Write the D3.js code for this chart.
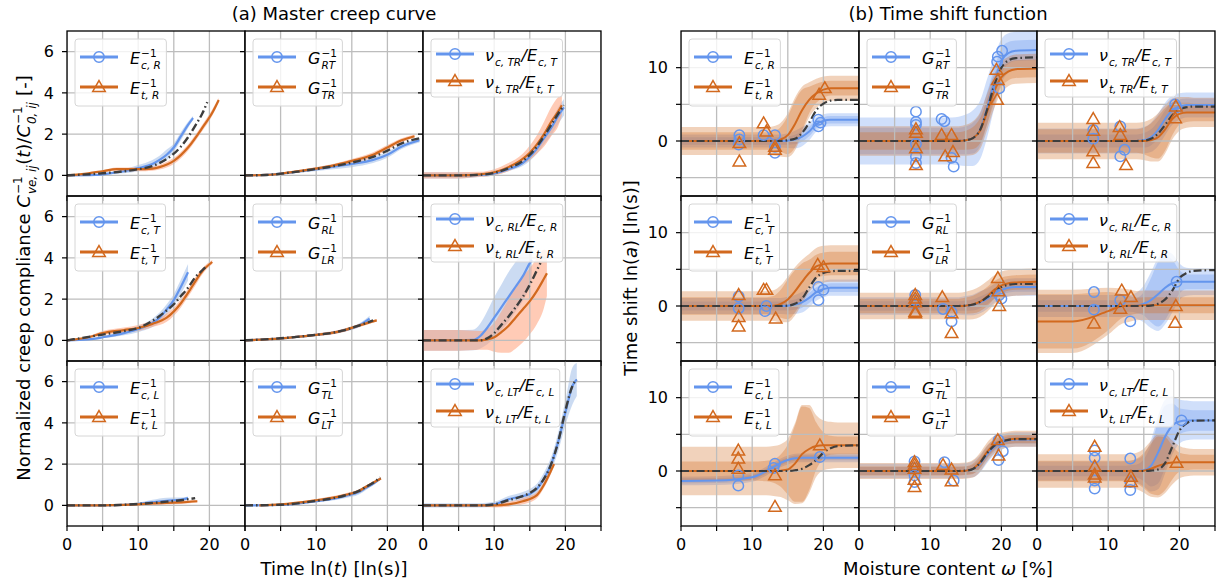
<!DOCTYPE html>
<html><head><meta charset="utf-8">
<script src="https://cdn.jsdelivr.net/npm/d3@7"></script>
<style>body{margin:0;background:#fff}svg{font-family:"DejaVu Sans",sans-serif}text{white-space:pre}</style>
</head><body><svg id="c" width="1219" height="587"></svg>
<script>
// ---------------- DATA ----------------
// (a) master creep curves: time ln(t) and normalized compliance, 9 subplots row-major
const creepBlueT = [
 [0,4,6,8,10,12,13,14,15,16,17,17.7],
 [0,3,6,9,12,15,18,20,22,24.5],
 [0,5,8,10,12,14,15,16,17,18,19,19.8],
 [0,3,5,8,10,12,13,14,15,16,17],
 [0,5,10,12,14,16,17.5],
 [0,5,7,8,9,10,11,12,13,14,15,15.3],
 [0,5,8,10,12,14,16,17],
 [0,5,10,12,14,16,17,18,19],
 [0,8,10,12,14,15,16,17,18,19,20,21,21.6]
];
const creepBlueV = [
 [0,0.02,0.1,0.2,0.35,0.55,0.75,1.0,1.35,1.9,2.45,2.78],
 [0,0.02,0.12,0.25,0.4,0.55,0.75,1.0,1.4,1.7],
 [0,0,0.02,0.1,0.3,0.6,0.9,1.3,1.8,2.3,2.9,3.3],
 [0,0.05,0.15,0.35,0.55,0.85,1.1,1.5,1.95,2.6,3.3],
 [0,0.1,0.27,0.35,0.5,0.72,1.05],
 [0,0,0.02,0.2,0.6,1.1,1.6,2.1,2.6,3.1,3.75,3.9],
 [0,0,0.02,0.08,0.15,0.22,0.28,0.35],
 [0,0.02,0.2,0.3,0.45,0.65,0.85,1.05,1.3],
 [0,0,0.05,0.3,0.45,0.55,0.8,1.3,2.0,3.1,4.5,5.8,6.1]
];
const creepBlueSpread = [
 [0,0.02,0.05,0.1,0.15,0.2,0.2,0.25,0.2,0.2,0.15,0.1],
 [0,0.02,0.05,0.08,0.12,0.15,0.15,0.15,0.12,0.1],
 [0.15,0.15,0.1,0.1,0.1,0.15,0.2,0.25,0.3,0.35,0.4,0.4],
 [0,0.02,0.05,0.1,0.15,0.2,0.25,0.25,0.3,0.35,0.4],
 [0,0.02,0.05,0.06,0.08,0.1,0.15],
 [0.5,0.5,0.5,0.6,0.8,1.0,1.1,1.2,1.2,1.2,1.1,0.9],
 [0,0,0.02,0.05,0.12,0.15,0.1,0.08],
 [0,0.02,0.05,0.08,0.1,0.12,0.1,0.08,0.06],
 [0.1,0.1,0.12,0.15,0.2,0.25,0.25,0.3,0.35,0.45,0.6,0.9,0.8]
];
const creepOrangeT = [
 [0,3,5,7,10,12,13,15,17,19,20.5,21.3],
 [0,3,6,9,12,15,18,20,22,23.8],
 [0,5,8,10,12,14,15,16,17,18,19,19.5],
 [0,3,5,8,10,12,14,16,17,18,19,20.4],
 [0,5,10,12,14,16,18.5],
 [0,5,8,9,10,11,12,13,14,15,16,17,17.4],
 [0,5,8,10,12,14,16,18.3],
 [2,5,10,12,14,16,17,18,19.1],
 [0,8,10,12,14,16,17,18,18.4]
];
const creepOrangeV = [
 [0,0.1,0.2,0.3,0.3,0.33,0.4,0.7,1.35,2.3,3.1,3.65],
 [0,0.02,0.13,0.28,0.45,0.7,1.0,1.35,1.7,1.9],
 [0,0,0.05,0.15,0.4,0.8,1.1,1.5,2.0,2.6,3.1,3.4],
 [0,0.15,0.35,0.5,0.6,0.8,1.1,1.8,2.3,2.85,3.35,3.8],
 [0,0.1,0.27,0.35,0.5,0.72,0.97],
 [0,0,0,0.05,0.15,0.4,0.7,1.1,1.5,1.9,2.4,3.0,3.25],
 [0,0,0.02,0.05,0.1,0.12,0.15,0.2],
 [0,0.05,0.25,0.35,0.5,0.7,0.9,1.1,1.3],
 [0,0,0,0.05,0.2,0.5,1.0,1.7,2.0]
];
const creepOrangeSpread = [
 [0,0.02,0.05,0.08,0.1,0.1,0.12,0.15,0.15,0.15,0.15,0.1],
 [0,0.02,0.05,0.06,0.08,0.1,0.12,0.12,0.1,0.08],
 [0.15,0.15,0.12,0.15,0.2,0.25,0.35,0.45,0.6,0.7,0.7,0.5],
 [0,0.05,0.1,0.12,0.15,0.15,0.2,0.2,0.2,0.2,0.15,0.1],
 [0,0.03,0.06,0.08,0.08,0.08,0.05],
 [0.5,0.5,0.45,0.5,0.7,1.0,1.3,1.5,1.6,1.6,1.6,1.4,1.1],
 [0,0,0.02,0.05,0.08,0.08,0.08,0.06],
 [0,0.03,0.06,0.08,0.08,0.08,0.08,0.06,0.05],
 [0.05,0.05,0.1,0.12,0.15,0.15,0.15,0.15,0.1]
];
const creepMasterT = [
 [0,5,10,12,14,15,16,17,18,19,19.7],
 [0,3,6,9,12,15,18,20,22,24.5],
 [0,5,8,10,12,14,15,16,17,18,19,19.8],
 [0,5,8,10,12,14,15,16,17,18,19,19.6],
 [0,5,10,12,14,16,18],
 [0,8,9,10,11,12,13,14,15,16,16.5],
 [0,5,10,12,14,16,18],
 [0,5,10,12,14,16,17,18,19],
 [0,8,10,12,14,15,16,17,18,19,20,21,21.6]
];
const creepMasterV = [
 [0,0.1,0.3,0.45,0.8,1.05,1.4,1.85,2.4,3.0,3.55],
 [0,0.02,0.12,0.26,0.42,0.62,0.9,1.2,1.55,1.8],
 [0,0,0.03,0.12,0.35,0.7,1.0,1.4,1.9,2.45,3.0,3.4],
 [0,0.28,0.45,0.6,0.95,1.45,1.75,2.15,2.55,3.05,3.4,3.6],
 [0,0.1,0.27,0.35,0.5,0.72,0.97],
 [0,0,0.1,0.35,0.75,1.15,1.6,2.1,2.7,3.4,3.75],
 [0,0,0.07,0.12,0.18,0.25,0.35],
 [0,0.03,0.22,0.32,0.48,0.7,0.9,1.1,1.35],
 [0,0,0.05,0.25,0.45,0.6,0.85,1.3,2.0,3.1,4.6,5.8,6.1]
];

// (b) time shift functions on moisture content grid
const moisture = [0,5,10,12,13,14,15,16,17,18,19,20,21,22,25];
const shiftBlue = [
 [0,0,0,0,0,0,0.05,0.2,0.6,1.3,2.3,2.75,2.9,2.9,2.9],
 [0,0,0,0,0,0,0.1,0.4,1.5,4.5,8.0,10.9,12.0,12.3,12.4],
 [0,0,0,0,0,0,0.1,0.5,1.5,3.0,4.2,4.7,4.9,4.9,4.9],
 [0,0,0,0,0,0,0.05,0.2,0.5,1.1,1.9,2.3,2.5,2.5,2.5],
 [0,0,0,0,0,0,0.05,0.15,0.5,1.0,1.7,2.2,2.5,2.6,2.6],
 [0,0,0,0,0,0.05,0.3,0.8,1.6,2.5,3.1,3.3,3.3,3.3,3.3],
 [-1.35,-1.3,-0.85,0.0,0.55,1.1,1.5,1.75,1.8,1.8,1.8,1.8,1.8,1.8,1.8],
 [0,0,0,0,0,0,0.05,0.25,1.0,2.3,3.3,3.9,4.2,4.3,4.3],
 [0,0,0,0,0,0,0.1,0.7,2.5,4.7,6.2,6.75,6.9,6.9,6.9]
];
const shiftOrange = [
 [0,0,0,0,0.02,0.2,0.8,2.3,4.2,5.6,6.5,7.0,7.2,7.2,7.2],
 [0,0,0,0,0,0,0.1,0.4,1.4,4.0,6.8,8.7,9.5,9.8,9.9],
 [0,0,0,0,0,0,0,0.1,0.5,1.6,3.0,3.7,3.9,3.9,3.9],
 [0,0,0,0,0.05,0.3,0.9,2.0,3.3,4.5,5.4,5.7,5.8,5.8,5.8],
 [0,0,0,0,0,0,0.05,0.2,0.6,1.3,2.2,2.8,3.1,3.2,3.3],
 [-2.1,-2.1,-0.7,0,0.05,0.05,0.1,0.1,0.1,0.1,0.1,0.1,0.1,0.1,0.1],
 [0,0,0,0,0,0.05,0.2,1.0,2.3,3.0,3.4,3.5,3.5,3.5,3.5],
 [0,0,0,0,0,0,0.05,0.3,1.2,2.6,3.6,4.1,4.3,4.4,4.4],
 [0,0,0,0,0,0,0.05,0.3,0.7,1.0,1.15,1.2,1.2,1.2,1.2]
];
const shiftMaster = [
 [0,0,0,0,0,0,0.1,0.3,1.1,2.5,4.2,5.1,5.5,5.6,5.6],
 [0,0,0,0,0,0,0.1,0.4,1.5,4.3,7.6,10.0,11.0,11.3,11.4],
 [0,0,0,0,0,0,0.05,0.3,1.0,2.2,3.5,4.3,4.6,4.7,4.7],
 [0,0,0,0,0,0,0.05,0.3,1.0,2.5,3.9,4.5,4.7,4.8,4.8],
 [0,0,0,0,0,0,0.05,0.2,0.55,1.2,2.0,2.6,2.9,3.0,3.0],
 [0,0,0,0,0,0,0,0.05,0.3,0.9,2.1,3.8,4.5,4.8,4.9],
 [0,0,0,0,0,0,0,0.1,0.3,0.8,1.5,2.5,3.1,3.4,3.5],
 [0,0,0,0,0,0,0.05,0.28,1.1,2.45,3.45,4.0,4.25,4.35,4.35],
 [0,0,0,0,0,0,0,0.05,0.2,1.1,3.3,5.5,6.5,6.85,6.9]
];
const shiftBlueOuter = [
 [0.9,0.9,0.9,0.9,0.9,0.9,1.0,1.2,1.3,1.2,1.0,0.9,0.9,0.9,0.9],
 [3.2,3.2,3.2,3.2,3.2,3.3,3.5,3.8,4.0,4.0,3.5,3.0,2.7,2.6,2.6],
 [1.7,1.7,1.7,1.7,1.7,1.7,1.8,2.0,2.2,2.2,2.0,1.8,1.7,1.7,1.7],
 [1.1,1.1,1.1,1.1,1.1,1.1,1.2,1.3,1.4,1.3,1.2,1.1,1.1,1.1,1.1],
 [1.2,1.2,1.2,1.2,1.2,1.2,1.3,1.4,1.5,1.4,1.3,1.2,1.2,1.2,1.2],
 [1.5,1.5,1.5,1.5,1.5,1.8,2.5,3.8,5.0,5.0,4.0,2.5,1.9,1.8,1.8],
 [0.6,0.6,0.6,0.6,0.6,0.6,0.6,0.6,0.6,0.6,0.6,0.6,0.6,0.6,0.6],
 [1.0,1.0,1.0,1.0,1.0,1.0,1.0,1.1,1.2,1.2,1.1,1.0,1.0,1.0,1.0],
 [1.3,1.3,1.3,1.3,1.4,1.6,2.2,3.5,5.0,5.0,4.0,3.0,2.7,2.6,2.6]
];
const shiftBlueInner = [
 [0.5,0.5,0.5,0.5,0.5,0.5,0.55,0.65,0.7,0.65,0.55,0.5,0.5,0.5,0.5],
 [1.8,1.8,1.8,1.8,1.8,1.8,1.9,2.1,2.2,2.2,1.9,1.7,1.5,1.4,1.4],
 [0.9,0.9,0.9,0.9,0.9,0.9,1.0,1.1,1.2,1.2,1.1,1.0,0.9,0.9,0.9],
 [0.6,0.6,0.6,0.6,0.6,0.6,0.65,0.7,0.75,0.7,0.65,0.6,0.6,0.6,0.6],
 [0.65,0.65,0.65,0.65,0.65,0.65,0.7,0.75,0.8,0.75,0.7,0.65,0.65,0.65,0.65],
 [0.8,0.8,0.8,0.8,0.8,1.0,1.6,3.0,4.4,4.4,3.2,1.6,1.0,1.0,1.0],
 [0.35,0.35,0.35,0.35,0.35,0.35,0.35,0.35,0.35,0.35,0.35,0.35,0.35,0.35,0.35],
 [0.55,0.55,0.55,0.55,0.55,0.55,0.55,0.6,0.65,0.65,0.6,0.55,0.55,0.55,0.55],
 [0.7,0.7,0.7,0.7,0.8,0.9,1.5,2.8,4.2,4.2,3.0,1.8,1.5,1.4,1.4]
];
const shiftOrangeOuter = [
 [1.9,1.9,1.9,1.9,2.0,2.3,3.0,3.6,3.2,2.4,2.0,1.8,1.7,1.7,1.7],
 [2.0,2.0,2.0,2.0,2.0,2.0,2.1,2.3,2.5,2.5,2.3,2.1,2.0,2.0,2.0],
 [2.5,2.5,2.5,2.5,2.5,2.5,2.6,2.9,3.3,3.3,2.8,2.3,2.1,2.0,2.0],
 [2.0,2.0,2.0,2.0,2.1,2.5,3.1,3.3,3.0,2.6,2.5,2.5,2.5,2.5,2.5],
 [1.8,1.8,1.8,1.8,1.8,1.8,1.9,2.0,2.1,2.1,2.0,1.9,1.8,1.8,1.8],
 [4.3,4.3,3.2,2.4,2.2,2.0,2.0,2.0,2.0,2.0,2.0,2.0,2.0,2.0,2.0],
 [3.3,3.3,3.3,3.3,3.4,3.6,4.2,5.5,6.7,6.0,4.2,3.4,3.2,3.1,3.1],
 [1.1,1.1,1.1,1.1,1.1,1.1,1.1,1.2,1.3,1.3,1.2,1.1,1.1,1.1,1.1],
 [2.3,2.3,2.3,2.3,2.3,2.5,3.0,3.8,4.3,4.0,3.0,2.2,1.9,1.8,1.8]
];
const shiftOrangeInner = [
 [1.2,1.2,1.2,1.2,1.3,1.7,2.6,3.2,2.8,1.8,1.3,1.1,1.0,1.0,1.0],
 [1.2,1.2,1.2,1.2,1.2,1.2,1.3,1.5,1.7,1.7,1.5,1.3,1.2,1.2,1.2],
 [1.6,1.6,1.6,1.6,1.6,1.6,1.8,2.3,2.9,2.9,2.2,1.5,1.3,1.2,1.2],
 [1.2,1.2,1.2,1.2,1.3,1.9,2.7,2.9,2.5,1.8,1.6,1.6,1.6,1.6,1.6],
 [1.0,1.0,1.0,1.0,1.0,1.0,1.1,1.2,1.3,1.3,1.2,1.1,1.0,1.0,1.0],
 [3.7,3.7,2.6,1.6,1.3,1.1,1.1,1.1,1.1,1.1,1.1,1.1,1.1,1.1,1.1],
 [1.3,1.3,1.3,1.4,1.6,2.2,3.4,5.2,6.5,5.6,3.2,1.8,1.3,1.2,1.2],
 [0.6,0.6,0.6,0.6,0.6,0.6,0.6,0.7,0.8,0.8,0.7,0.6,0.6,0.6,0.6],
 [1.4,1.4,1.4,1.4,1.4,1.7,2.4,3.4,4.0,3.6,2.3,1.3,1.1,1.0,1.0]
];
// measured shift factors [moisture %, ln(a)]
const shiftCircles = [
 [[8.2,0.8],[8.2,0.2],[8.1,-0.5],[11.6,0.8],[13.2,0.8],[13.2,-0.8],[13.2,-1.6],[19.3,2.9],[19.3,2.0],[19.6,2.5]],
 [[8,4.0],[8,2.6],[8,2.2],[8,-0.4],[8,-2.1],[8,-3.0],[11.6,3.0],[12,2.7],[13,-2.3],[13.3,-3.5],[19.5,11.5],[20.1,12.3],[19.4,10.8],[19.7,7.2]],
 [[7.9,1.5],[7.9,0.3],[11.7,2.0],[11.7,-2.1],[12.3,-1.2],[19.4,5.0],[19.6,4.6]],
 [[8.1,1.3],[8.1,-0.3],[12,0],[11.8,-0.7],[19.3,2.6],[20,2.2],[19.3,0.8]],
 [[7.9,1.5],[7.9,0.8],[7.9,0.3],[11.8,-0.4],[13,-0.8],[13,-2.1],[19.7,1.5],[20,1.0]],
 [[8,1.9],[8,-0.5],[11.7,0.8],[13.1,-2.1],[19.6,3.3]],
 [[8.05,-0.6],[8.05,-2.0],[13.2,1.0],[13,0.4],[19.5,1.9]],
 [[7.8,1.3],[7.8,0.4],[7.8,-0.6],[7.8,-1.5],[12,1.2],[13.3,-1.3],[19.6,4.2],[19.6,1.5],[20.2,2.7]],
 [[8.1,2.8],[8.1,1.8],[8.1,-1.3],[8.1,-2.4],[13.1,1.7],[13.1,-1.5],[13.1,-2.6],[20.3,6.9]]
];
const shiftTriangles = [
 [[8.2,-0.3],[8.2,-2.8],[11.6,2.4],[12,1.3],[13.2,-0.8],[13.2,-1.2],[19.4,6.3],[20.2,7.2]],
 [[8,1.6],[8,1.1],[8,-1.0],[8,-3.3],[11.6,0.8],[13,0.8],[13.2,-1.5],[12.1,-2.1],[19.3,9.7],[19.5,8.3],[19.4,5.6]],
 [[7.9,3.0],[7.9,1.4],[7.9,-1.4],[7.9,-3.0],[11.6,1.9],[11.7,0.8],[12.5,-3.3],[19.4,3.1],[19.5,4.7]],
 [[8.1,1.5],[8.1,-1.5],[8.1,-2.8],[11.6,2.2],[12,2.2],[13.3,-1.7],[19.2,5.6],[20,5.3]],
 [[7.9,1.5],[7.9,1.0],[7.9,0.5],[7.9,-0.8],[7.9,-1.0],[11.7,1.2],[13,-1.0],[13,-3.7],[19.5,3.8],[19.6,2.0],[19.7,0]],
 [[8,-2.4],[11.9,2.1],[11.7,-0.4],[13.2,1.2],[19.5,0],[19.4,-2.3]],
 [[8.05,2.8],[8.05,1.7],[8.05,0.3],[13.2,-0.6],[13.2,-4.9],[19.5,3.5]],
 [[7.8,1.2],[7.8,0.8],[7.8,0.3],[7.8,-1.2],[7.8,-2.2],[11.8,0.8],[13,0.2],[13,-1.4],[19.5,4.2],[19.6,2.1]],
 [[8.1,3.3],[8.1,0.6],[8.1,-0.5],[8.1,-0.9],[13.2,-0.8],[13.2,-1.5],[19.6,1.1]]
];
// legend labels: [symbol, superscript, subscript] segments
const legendBlue = [
 [["E","−1","c, R"]], [["G","−1","RT"]], [["ν","","c, TR"],["/E","","c, T"]],
 [["E","−1","c, T"]], [["G","−1","RL"]], [["ν","","c, RL"],["/E","","c, R"]],
 [["E","−1","c, L"]], [["G","−1","TL"]], [["ν","","c, LT"],["/E","","c, L"]]
];
const legendOrange = [
 [["E","−1","t, R"]], [["G","−1","TR"]], [["ν","","t, TR"],["/E","","t, T"]],
 [["E","−1","t, T"]], [["G","−1","LR"]], [["ν","","t, RL"],["/E","","t, R"]],
 [["E","−1","t, L"]], [["G","−1","LT"]], [["ν","","t, LT"],["/E","","t, L"]]
];
const xTicks = [0,5,10,15,20,25];
const xTickLabels = [0,10,20];
const creepYTicks = [0,2,4,6];
const creepYLabels = [0,2,4,6];
const shiftYTicks = [-5,0,5,10];
const shiftYLabels = [0,10];

// ---------------- DRAWING ----------------
const svg = d3.select("#c");
const BLUE="#6495ED", ORANGE="#D2691E", MASTER="#3d3d3d";
const CLOUD_B="#a8c3ea", CLOUD_O="#ffa07a";
const colW=178, rowH=165, top0=31;
const panelX=[67,681];
const x = d3.scaleLinear().domain([0,25]).range([0,colW]);
const yC = d3.scaleLinear().domain([-1,7]).range([rowH,0]);
const yS = d3.scaleLinear().domain([-7.5,15]).range([rowH,0]);
const DASHDOT = "8,3,1.6,3";

function rich(g, x0, y, segs, size, sub, supOff, subOff) {
  let cx = x0;
  segs.forEach(s => {
    const t = g.append("text").attr("x",cx).attr("y",y).attr("font-size",size)
      .attr("font-style", s.it ? "italic":"normal").text(s.t);
    cx += t.node().getComputedTextLength();
    let w = 0;
    if (s.sup) {
      const u = g.append("text").attr("x",cx+1).attr("y",y-supOff).attr("font-size",sub).text(s.sup);
      w = Math.max(w, u.node().getComputedTextLength());
    }
    if (s.sub) {
      const u = g.append("text").attr("x",cx+1).attr("y",y+subOff).attr("font-size",sub)
        .attr("font-style","italic").text(s.sub);
      w = Math.max(w, u.node().getComputedTextLength());
    }
    if (w) cx += w + 1.5;
  });
  return cx - x0;
}

function marker(g, kind, cx, cy, color) {
  if (kind === "o") {
    g.append("circle").attr("cx",cx).attr("cy",cy).attr("r",5.2)
      .attr("fill","none").attr("stroke",color).attr("stroke-width",1.5);
  } else {
    g.append("path").attr("d", d3.symbol(d3.symbolTriangle, 68)())
      .attr("transform",`translate(${cx},${cy+0.8})`)
      .attr("fill","none").attr("stroke",color).attr("stroke-width",1.5);
  }
}

function drawLegend(g, i) {
  const isNu = legendBlue[i].length > 1;
  const lg = g.append("g");
  const box = lg.append("rect");
  const rows = isNu ? [23,50] : [26,56];
  const tx = isNu ? 62 : 63;
  let maxW = 0;
  [[legendBlue[i],BLUE,"o"],[legendOrange[i],ORANGE,"^"]].forEach((e,k) => {
    const yc = rows[k];
    lg.append("line").attr("x1",13).attr("x2",51).attr("y1",yc).attr("y2",yc)
      .attr("stroke",e[1]).attr("stroke-width",3);
    marker(lg, e[2], 32, yc, e[1]);
    const segs = e[0].map(s => ({t:s[0], it:true, sup:s[1], sub:s[2]}));
    maxW = Math.max(maxW, rich(lg, tx, yc+6.5, segs, 16, 10.5, 7, 5));
  });
  box.attr("x",8).attr("y",8).attr("width", tx - 8 + maxW + 5).attr("height", isNu?58:67)
    .attr("rx",3).attr("fill","#fff").attr("fill-opacity",0.8).attr("stroke","#d6d6d6").attr("stroke-width",1);
}

function frame(g, id) {
  g.append("clipPath").attr("id",id).append("rect").attr("width",colW).attr("height",rowH);
}

function grid(g, y, yTicks) {
  const gg = g.append("g").attr("stroke","#bdbdbd").attr("stroke-width",1.3);
  xTicks.forEach(v => gg.append("line").attr("x1",x(v)).attr("x2",x(v)).attr("y1",0).attr("y2",rowH));
  yTicks.forEach(v => gg.append("line").attr("x1",0).attr("x2",colW).attr("y1",y(v)).attr("y2",y(v)));
}

function axesDecor(g, y, yTicks, yLabels, r, c) {
  g.append("rect").attr("width",colW).attr("height",rowH).attr("fill","none")
    .attr("stroke","#000").attr("stroke-width",1.3);
  const t = g.append("g").attr("stroke","#000").attr("stroke-width",1.2);
  yTicks.forEach(v => t.append("line").attr("x1",-5).attr("x2",0).attr("y1",y(v)).attr("y2",y(v)));
  xTicks.forEach(v => t.append("line").attr("x1",x(v)).attr("x2",x(v)).attr("y1",rowH).attr("y2",rowH+5));
  if (c === 0) yLabels.forEach(v => g.append("text").attr("x",-13).attr("y",y(v)).attr("dy","0.36em")
      .attr("text-anchor","end").attr("font-size",16).text(v));
  if (r === 2) xTickLabels.forEach(v => g.append("text").attr("x",x(v)).attr("y",rowH+24)
      .attr("text-anchor","middle").attr("font-size",16).text(v));
}

const lineGen = (y) => d3.line().x(d=>x(d[0])).y(d=>y(d[1])).curve(d3.curveMonotoneX);
const areaGen = (y) => d3.area().x(d=>x(d[0])).y0(d=>y(d[1]-d[2])).y1(d=>y(d[1]+d[2])).curve(d3.curveMonotoneX);
const zip3 = (a,b,c) => a.map((v,k)=>[v,b[k],c[k]]);

// Panel (a)
for (let i=0;i<9;i++) {
  const r=Math.floor(i/3), c=i%3;
  const g = svg.append("g").attr("transform",`translate(${panelX[0]+c*colW},${top0+r*rowH})`);
  const id = "ca"+i;
  frame(g, id);
  const cg = g.append("g").attr("clip-path",`url(#${id})`);
  cg.append("path").attr("d", areaGen(yC)(zip3(creepBlueT[i],creepBlueV[i],creepBlueSpread[i])))
    .attr("fill",CLOUD_B).attr("fill-opacity",0.6);
  cg.append("path").attr("d", areaGen(yC)(zip3(creepOrangeT[i],creepOrangeV[i],creepOrangeSpread[i])))
    .attr("fill",CLOUD_O).attr("fill-opacity",0.55);
  grid(cg, yC, creepYTicks);
  cg.append("path").attr("d", lineGen(yC)(zip3(creepBlueT[i],creepBlueV[i],creepBlueV[i])))
    .attr("fill","none").attr("stroke",BLUE).attr("stroke-width",2.2);
  cg.append("path").attr("d", lineGen(yC)(zip3(creepOrangeT[i],creepOrangeV[i],creepOrangeV[i])))
    .attr("fill","none").attr("stroke",ORANGE).attr("stroke-width",2.2);
  cg.append("path").attr("d", lineGen(yC)(zip3(creepMasterT[i],creepMasterV[i],creepMasterV[i])))
    .attr("fill","none").attr("stroke",MASTER).attr("stroke-width",2.4).attr("stroke-dasharray",DASHDOT);
  axesDecor(g, yC, creepYTicks, creepYLabels, r, c);
  drawLegend(g, i);
}

// Panel (b)
for (let i=0;i<9;i++) {
  const r=Math.floor(i/3), c=i%3;
  const g = svg.append("g").attr("transform",`translate(${panelX[1]+c*colW},${top0+r*rowH})`);
  const id = "cb"+i;
  frame(g, id);
  const cg = g.append("g").attr("clip-path",`url(#${id})`);
  const bands = [[shiftBlue[i],shiftBlueOuter[i],BLUE],[shiftBlue[i],shiftBlueInner[i],BLUE],
                 [shiftOrange[i],shiftOrangeOuter[i],ORANGE],[shiftOrange[i],shiftOrangeInner[i],ORANGE]];
  bands.forEach(b => cg.append("path").attr("d", areaGen(yS)(zip3(moisture,b[0],b[1])))
    .attr("fill",b[2]).attr("fill-opacity",0.3));
  grid(cg, yS, shiftYTicks);
  cg.append("path").attr("d", lineGen(yS)(zip3(moisture,shiftBlue[i],shiftBlue[i])))
    .attr("fill","none").attr("stroke",BLUE).attr("stroke-width",2);
  cg.append("path").attr("d", lineGen(yS)(zip3(moisture,shiftOrange[i],shiftOrange[i])))
    .attr("fill","none").attr("stroke",ORANGE).attr("stroke-width",2);
  cg.append("path").attr("d", lineGen(yS)(zip3(moisture,shiftMaster[i],shiftMaster[i])))
    .attr("fill","none").attr("stroke",MASTER).attr("stroke-width",2.2).attr("stroke-dasharray",DASHDOT);
  shiftCircles[i].forEach(p => marker(cg,"o",x(p[0]),yS(p[1]),BLUE));
  shiftTriangles[i].forEach(p => marker(cg,"^",x(p[0]),yS(p[1]),ORANGE));
  axesDecor(g, yS, shiftYTicks, shiftYLabels, r, c);
  drawLegend(g, i);
}

// Titles & axis labels
svg.append("text").attr("x",334).attr("y",19.5).attr("text-anchor","middle").attr("font-size",18).text("(a) Master creep curve");
svg.append("text").attr("x",948).attr("y",19.5).attr("text-anchor","middle").attr("font-size",18).text("(b) Time shift function");

function centeredRich(x0, y0, rotate, segs, size, sub) {
  const g = svg.append("g").attr("transform",`translate(${x0},${y0})${rotate?" rotate(-90)":""}`);
  const inner = g.append("g");
  const w = rich(inner, 0, 0, segs, size, sub, 8.5, 6);
  inner.attr("transform",`translate(${-w/2},0)`);
}
centeredRich(334, 575, false, [{t:"Time ln(",it:false},{t:"t",it:true},{t:") [ln(s)]",it:false}], 18, 12);
centeredRich(948, 575, false, [{t:"Moisture content ",it:false},{t:"ω",it:true},{t:" [%]",it:false}], 18, 12);
centeredRich(637, 278, true, [{t:"Time shift ln(",it:false},{t:"a",it:true},{t:") [ln(s)]",it:false}], 18, 12);
centeredRich(30, 278, true, [{t:"Normalized creep compliance ",it:false},{t:"C",it:true,sup:"−1",sub:"ve, ij"},
  {t:"(",it:false},{t:"t",it:true},{t:")/",it:false},{t:"C",it:true,sup:"−1",sub:"0, ij"},{t:" [-]",it:false}], 18, 12);
</script></body></html>
